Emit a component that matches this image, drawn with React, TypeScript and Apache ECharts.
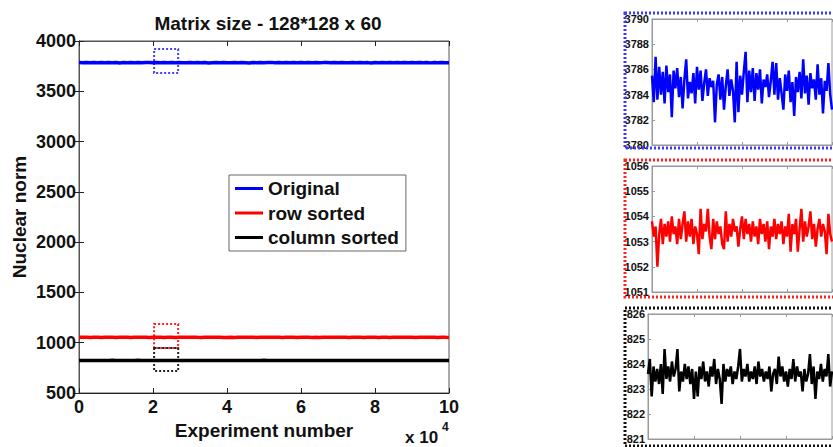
import React, { useEffect, useRef } from "react";
import * as echarts from "echarts";

const seriesNames = ["Original", "row sorted", "column sorted"];
const xTicksMain = [0, 2, 4, 6, 8, 10];

const originalValues = [
  3785.5, 3783.4, 3787.0, 3783.6, 3786.2, 3784.0, 3785.8, 3783.3, 3786.3, 3784.2,
  3785.6, 3782.2, 3785.9, 3784.5, 3786.1, 3783.8, 3785.4, 3782.9, 3785.2, 3786.8,
  3783.7, 3785.0, 3784.1, 3785.7, 3783.3, 3786.2, 3784.4, 3785.9, 3783.5, 3784.9,
  3786.0, 3783.9, 3785.3, 3784.6, 3785.1, 3781.8, 3784.8, 3785.6, 3783.6, 3785.4,
  3782.8, 3784.7, 3786.0, 3783.9, 3785.2, 3784.3, 3781.8, 3786.6, 3782.6, 3785.5,
  3784.0, 3785.8, 3787.4, 3783.4, 3785.9, 3784.2, 3786.1, 3783.5, 3785.7, 3784.4,
  3786.0, 3783.3, 3785.2, 3784.6, 3785.6, 3783.8, 3785.1, 3786.6, 3784.0, 3786.5,
  3783.6, 3785.3, 3784.1, 3782.8, 3785.6, 3784.3, 3785.9, 3783.4, 3785.0, 3782.3,
  3785.4, 3784.2, 3785.8, 3783.7, 3786.8, 3784.1, 3785.5, 3783.2, 3785.7, 3784.5,
  3785.2, 3783.6, 3786.4, 3784.0, 3785.3, 3782.5, 3785.1, 3784.3, 3786.5, 3784.0,
  3782.8,
];

const rowSortedValues = [
  1053.8, 1053.2, 1053.6, 1052.0, 1053.3, 1053.9, 1052.9, 1053.7, 1053.2, 1053.8,
  1053.0, 1054.0, 1053.3, 1053.6, 1052.9, 1053.9, 1053.1, 1053.7, 1054.2, 1053.0,
  1053.8, 1053.2, 1053.9, 1052.9, 1053.6, 1053.3, 1052.5, 1054.3, 1053.1, 1053.7,
  1053.4, 1054.3, 1053.2, 1052.7, 1053.9, 1053.1, 1053.8, 1053.3, 1053.6, 1052.9,
  1052.7, 1054.2, 1053.0, 1053.7, 1053.2, 1053.9, 1053.4, 1053.6, 1052.8, 1053.5,
  1054.0, 1053.1, 1053.9, 1053.3, 1053.7, 1053.0, 1053.8, 1053.2, 1053.6, 1052.9,
  1053.9, 1053.3, 1053.7, 1053.0, 1053.8, 1052.7, 1053.6, 1053.2, 1053.9, 1053.1,
  1053.7, 1053.3, 1053.8, 1052.9, 1053.6, 1053.2, 1054.1, 1052.6, 1053.7, 1053.3,
  1053.9, 1052.6, 1053.5, 1054.3, 1053.0, 1053.8, 1053.2, 1053.6, 1054.2, 1053.1,
  1053.7, 1052.8, 1053.5, 1053.9, 1053.2, 1053.7, 1053.4, 1052.5, 1054.1, 1053.3,
  1053.0,
];

const columnSortedValues = [
  823.6, 824.2, 822.7, 823.9, 823.3, 823.8, 823.2, 824.0, 822.8, 824.6,
  823.4, 823.9, 823.3, 824.1, 823.5, 823.8, 824.6, 822.9, 823.7, 823.3,
  824.0, 823.4, 823.9, 823.2, 823.8, 822.6, 823.7, 822.7, 823.9, 823.4,
  824.1, 823.3, 823.7, 823.1, 823.9, 823.5, 824.2, 823.2, 823.8, 823.4,
  822.4, 824.0, 823.3, 823.8, 823.5, 823.9, 823.2, 823.7, 823.4, 823.9,
  824.6, 823.3, 823.8, 823.5, 824.0, 823.3, 823.7, 823.4, 823.9, 823.2,
  824.1, 823.5, 823.8, 823.3, 823.7, 823.4, 823.9, 822.9, 823.6, 823.8,
  823.2, 824.3, 823.5, 823.9, 823.3, 823.7, 823.1, 823.8, 823.4, 824.2,
  823.3, 823.9, 823.5, 823.7, 822.9, 823.8, 823.3, 823.6, 824.4, 823.2,
  823.9, 822.6, 823.7, 823.4, 824.0, 823.3, 823.8, 823.5, 824.4, 823.1,
  823.7,
];

// zoom boxes on the main plot: [xFrom, xTo, yFrom, yTo]
const zoomBoxOriginal = [2.03, 2.68, 3682, 3920];
const zoomBoxRow = [2.03, 2.68, 947, 1186];
const zoomBoxColumn = [2.03, 2.68, 719, 947];

const FONT = "'Liberation Sans', Arial, Helvetica, sans-serif";
const plain = (v: number) => String(v);

function mainData(vals: number[]) {
  const n = vals.length - 1;
  return vals.map((v, i) => [(i / n) * 10, v]);
}
function insetData(vals: number[]) {
  return vals.map((v, i) => [i, v]);
}
function box(b: number[], color: string) {
  return {
    silent: true,
    data: [
      [
        {
          coord: [b[0], b[3]],
          itemStyle: { color: "transparent", borderColor: color, borderWidth: 2, borderType: [2, 2] },
        },
        { coord: [b[1], b[2]] },
      ],
    ],
  };
}

export default function App() {
  const ref = useRef<HTMLDivElement>(null);
  useEffect(() => {
    if (!ref.current) return;
    const chart = echarts.init(ref.current, undefined, { renderer: "svg" });
    const axisLineBlack = { show: true, lineStyle: { color: "#222", width: 1 } };
    const insetLine = { show: true, lineStyle: { color: "#999", width: 1 } };
    const insetX = (grid: number, pos: "top" | "bottom") => ({
      type: "value",
      gridIndex: grid,
      position: pos,
      min: 0,
      max: 100,
      interval: 25,
      axisLine: insetLine,
      axisTick: { show: true, inside: true, length: 3, lineStyle: { color: "#999" } },
      axisLabel: { show: false },
      splitLine: { show: false },
    });
    const insetY = (grid: number, min: number, max: number, interval: number) => ({
      type: "value",
      gridIndex: grid,
      min,
      max,
      interval,
      axisLine: insetLine,
      axisTick: { show: true, inside: true, length: 3, lineStyle: { color: "#999" } },
      axisLabel: { fontSize: 11, fontWeight: "bold", color: "#111", fontFamily: FONT, margin: 3, formatter: plain },
      splitLine: { show: false },
    });
    const option: any = {
      animation: false,
      backgroundColor: "#fff",
      title: {
        text: "Matrix size - 128*128 x 60",
        left: 263,
        textAlign: "center",
        top: 9,
        textStyle: { fontSize: 19, fontWeight: "bold", color: "#111", fontFamily: FONT },
      },
      legend: {
        data: seriesNames,
        orient: "vertical",
        left: 229,
        top: 175,
        icon: "rect",
        itemWidth: 28,
        itemHeight: 3,
        itemGap: 3.5,
        padding: [3, 7, 3, 6],
        borderColor: "#666",
        borderWidth: 1,
        backgroundColor: "#fff",
        textStyle: { fontSize: 19, fontWeight: "bold", color: "#111", fontFamily: FONT, lineHeight: 21 },
      },
      grid: [
        { left: 79, top: 41, width: 370, height: 352, show: true, borderColor: "#555", borderWidth: 1, backgroundColor: "transparent" },
        { left: 652, top: 19, width: 180, height: 126, show: true, borderColor: "#999", borderWidth: 1 },
        { left: 652, top: 166, width: 180, height: 126, show: true, borderColor: "#999", borderWidth: 1 },
        { left: 648, top: 314, width: 184, height: 125, show: true, borderColor: "#999", borderWidth: 1 },
      ],
      xAxis: [
        {
          type: "value",
          gridIndex: 0,
          min: xTicksMain[0],
          max: xTicksMain[xTicksMain.length - 1],
          interval: 2,
          name: "Experiment number",
          nameLocation: "middle",
          nameGap: 22,
          nameTextStyle: { fontSize: 19, fontWeight: "bold", color: "#111", fontFamily: FONT },
          axisLine: axisLineBlack,
          axisTick: { show: true, inside: true, length: 5, lineStyle: { color: "#222" } },
          axisLabel: { fontSize: 18, fontWeight: "bold", color: "#111", fontFamily: FONT, margin: 5, formatter: plain },
          splitLine: { show: false },
        },
        {
          type: "value",
          gridIndex: 0,
          position: "top",
          min: 0,
          max: 10,
          interval: 2,
          axisLine: { show: true, lineStyle: { color: "#555" } },
          axisTick: { show: true, inside: true, length: 5, lineStyle: { color: "#222" } },
          axisLabel: { show: false },
          splitLine: { show: false },
        },
        insetX(1, "bottom"),
        insetX(1, "top"),
        insetX(2, "bottom"),
        insetX(2, "top"),
        insetX(3, "bottom"),
        insetX(3, "top"),
      ],
      yAxis: [
        {
          type: "value",
          gridIndex: 0,
          min: 500,
          max: 4000,
          interval: 500,
          name: "Nuclear norm",
          nameLocation: "middle",
          nameGap: 50,
          nameRotate: 90,
          nameTextStyle: { fontSize: 19, fontWeight: "bold", color: "#111", fontFamily: FONT },
          axisLine: axisLineBlack,
          axisTick: { show: true, inside: true, length: 5, lineStyle: { color: "#222" } },
          axisLabel: { fontSize: 18, fontWeight: "bold", color: "#111", fontFamily: FONT, margin: 3, formatter: plain },
          splitLine: { show: false },
        },
        {
          type: "value",
          gridIndex: 0,
          position: "right",
          min: 500,
          max: 4000,
          interval: 500,
          axisLine: { show: true, lineStyle: { color: "#555" } },
          axisTick: { show: true, inside: true, length: 5, lineStyle: { color: "#222" } },
          axisLabel: { show: false },
          splitLine: { show: false },
        },
        insetY(1, 3780, 3790, 2),
        insetY(2, 1051, 1056, 1),
        insetY(3, 821, 826, 1),
      ],
      series: [
        {
          name: seriesNames[0],
          type: "line",
          xAxisIndex: 0,
          yAxisIndex: 0,
          data: mainData(originalValues),
          showSymbol: false,
          lineStyle: { color: "#0000ff", width: 3.5 },
          itemStyle: { color: "#0000ff" },
          markArea: box(zoomBoxOriginal, "#4040ff"),
        },
        {
          name: seriesNames[1],
          type: "line",
          xAxisIndex: 0,
          yAxisIndex: 0,
          data: mainData(rowSortedValues),
          showSymbol: false,
          lineStyle: { color: "#ff0000", width: 3.5 },
          itemStyle: { color: "#ff0000" },
          markArea: box(zoomBoxRow, "#ff2020"),
        },
        {
          name: seriesNames[2],
          type: "line",
          xAxisIndex: 0,
          yAxisIndex: 0,
          data: mainData(columnSortedValues),
          showSymbol: false,
          lineStyle: { color: "#000000", width: 3.5 },
          itemStyle: { color: "#000000" },
          markArea: box(zoomBoxColumn, "#222"),
        },
        {
          name: "inset-original",
          type: "line",
          xAxisIndex: 2,
          yAxisIndex: 2,
          data: insetData(originalValues),
          showSymbol: false,
          lineStyle: { color: "#0000ff", width: 2.5 },
        },
        {
          name: "inset-row",
          type: "line",
          xAxisIndex: 4,
          yAxisIndex: 3,
          data: insetData(rowSortedValues),
          showSymbol: false,
          lineStyle: { color: "#ff0000", width: 2.5 },
        },
        {
          name: "inset-column",
          type: "line",
          xAxisIndex: 6,
          yAxisIndex: 4,
          data: insetData(columnSortedValues),
          showSymbol: false,
          lineStyle: { color: "#000000", width: 2.5 },
        },
      ],
      graphic: [
        {
          type: "rect",
          shape: { x: 625, y: 13, width: 212, height: 135 },
          style: { fill: "transparent", stroke: "#3a3aff", lineWidth: 3, lineDash: [2, 2] },
          silent: true,
          z: 100,
        },
        {
          type: "rect",
          shape: { x: 625, y: 160, width: 212, height: 137 },
          style: { fill: "transparent", stroke: "#ff2020", lineWidth: 3, lineDash: [2, 2] },
          silent: true,
          z: 100,
        },
        {
          type: "rect",
          shape: { x: 625, y: 308, width: 212, height: 138 },
          style: { fill: "transparent", stroke: "#111", lineWidth: 3, lineDash: [2, 2] },
          silent: true,
          z: 100,
        },
        {
          type: "text",
          x: 405,
          y: 437,
          style: {
            text: "x 10",
            fontSize: 17,
            fontWeight: "bold",
            fill: "#111",
            fontFamily: FONT,
            verticalAlign: "middle",
          },
        },
        {
          type: "text",
          x: 442,
          y: 427,
          style: {
            text: "4",
            fontSize: 12,
            fontWeight: "bold",
            fill: "#111",
            fontFamily: FONT,
            verticalAlign: "middle",
          },
        },
      ],
    };
    chart.setOption(option);
    return () => chart.dispose();
  }, []);
  return (
    <div
      ref={ref}
      style={{ position: "fixed", left: 0, top: 0, width: 833, height: 447, background: "#fff" }}
    />
  );
}
